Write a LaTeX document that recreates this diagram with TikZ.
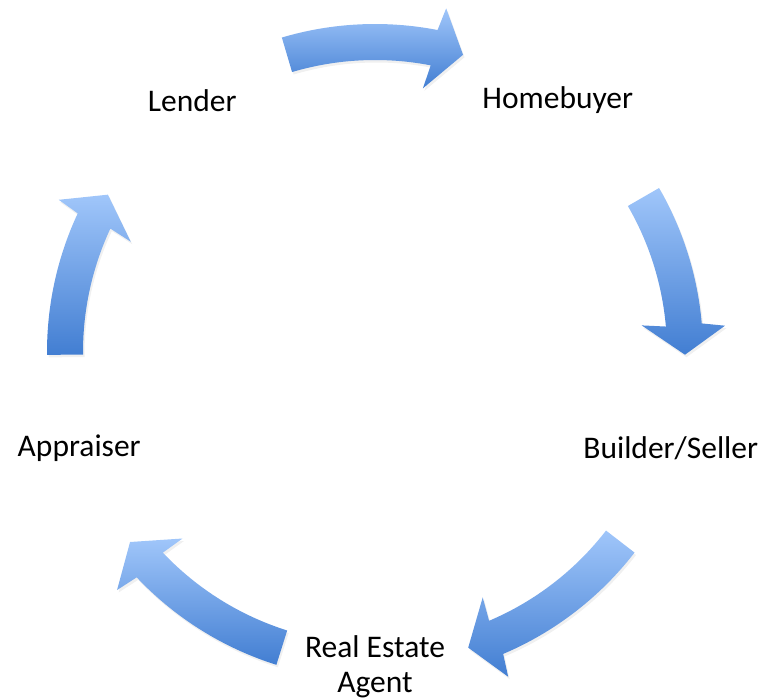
\documentclass[tikz,border=0pt]{standalone}
\usepackage{fontspec}
\setmainfont{Carlito}
\usetikzlibrary{shadows}

\def\ringinner{292}
\def\ringouter{328}
\def\headinner{268}
\def\headouter{351}
\def\tipradius{310}
\definecolor{arrowtop}{RGB}{160, 198, 250}
\definecolor{arrowbottom}{RGB}{66, 126, 210}

\begin{document}
\begin{tikzpicture}[x=1pt, y=1pt,
    cycletext/.style={font=\fontsize{31.5}{35}\selectfont, align=center, text=black, inner sep=0pt},
    cyclearrow/.style={top color=arrowtop, bottom color=arrowbottom,
        drop shadow={opacity=0.12, shadow xshift=1.5pt, shadow yshift=-2.5pt}}
    ]
    \useasboundingbox (-375,-345) rectangle (390,352);

    % Define labels (angle / radius / text)
    \foreach [count = \i] \ang/\rad/\txt in {126/311/Lender, 54/311/Homebuyer,
        -18/311/{Builder/Seller}, 270/315/{Real Estate\\Agent}, 198/311/Appraiser} {
        \node[cycletext] (N\i) at (\ang:\rad) {\txt};
    }

    % Define arrows (tail angle / head base angle / tip angle)
    \foreach \tail/\base/\tip in {106.5/79/73.5, 30/5/-0.5, -37.7/-67/-72.5,
        252.5/223.4/217.8, 180.5/155/149.5} {
        \path[cyclearrow] (\tail:\ringouter)
            arc[start angle=\tail, end angle=\base, radius=\ringouter]
            -- ({\base-0.7}:\headouter) -- (\tip:\tipradius)
            -- ({\base+0.7}:\headinner) -- (\base:\ringinner)
            arc[start angle=\base, end angle=\tail, radius=\ringinner] -- cycle;
    }
\end{tikzpicture}
\end{document}
